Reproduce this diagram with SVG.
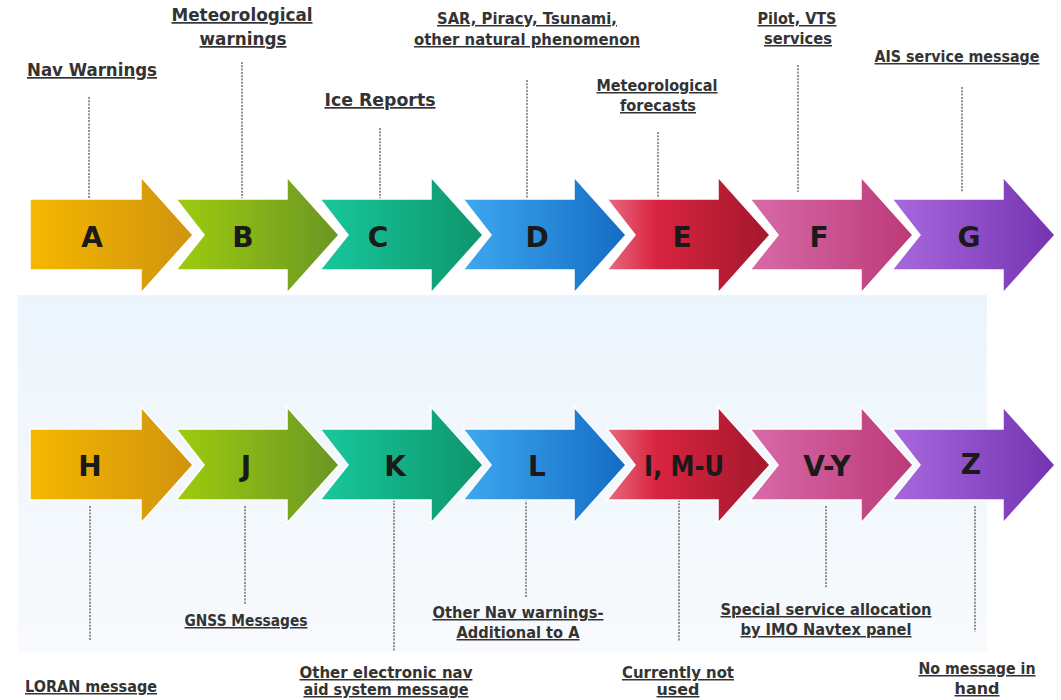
<svg xmlns="http://www.w3.org/2000/svg" width="1061" height="700" viewBox="0 0 1061 700">
<defs>
<linearGradient id="bg" x1="0" y1="0" x2="0" y2="1"><stop offset="0" stop-color="#ECF5FD"/><stop offset="1" stop-color="#F8FAFC"/></linearGradient>
<linearGradient id="gA" x1="0" y1="0" x2="1" y2="0"><stop offset="0" stop-color="#F5B700"/><stop offset="1" stop-color="#D0930E"/></linearGradient>
<linearGradient id="gB" x1="0" y1="0" x2="1" y2="0"><stop offset="0" stop-color="#9ECC0E"/><stop offset="1" stop-color="#6A9624"/></linearGradient>
<linearGradient id="gC" x1="0" y1="0" x2="1" y2="0"><stop offset="0" stop-color="#18C89C"/><stop offset="1" stop-color="#0E956C"/></linearGradient>
<linearGradient id="gD" x1="0" y1="0" x2="1" y2="0"><stop offset="0" stop-color="#3EA8F0"/><stop offset="1" stop-color="#146CC4"/></linearGradient>
<linearGradient id="gE" x1="0" y1="0" x2="1" y2="0"><stop offset="0" stop-color="#E86A80"/><stop offset="0.3" stop-color="#D92440"/><stop offset="1" stop-color="#A3182C"/></linearGradient>
<linearGradient id="gF" x1="0" y1="0" x2="1" y2="0"><stop offset="0" stop-color="#D86AA8"/><stop offset="1" stop-color="#BC3A78"/></linearGradient>
<linearGradient id="gG" x1="0" y1="0" x2="1" y2="0"><stop offset="0" stop-color="#A868DE"/><stop offset="1" stop-color="#7434B0"/></linearGradient>
<style>
.arrow{stroke:#ffffff;stroke-width:1.5;stroke-linejoin:miter}
.letter{font-family:"DejaVu Sans","Liberation Sans",sans-serif;font-weight:bold;font-size:28px;fill:#1a1a1a;text-anchor:middle}
.lbl{font-family:"DejaVu Sans","Liberation Sans",sans-serif;font-weight:bold;font-size:15px;fill:#333333;text-anchor:middle;text-decoration:underline}
.big{font-size:17px}
.conn{stroke:#3a3a3a;stroke-width:1.1;stroke-dasharray:2 1.3;fill:none}
</style>
</defs>
<rect x="0" y="0" width="1061" height="700" fill="#ffffff"/>
<rect x="18" y="295" width="969" height="357" fill="url(#bg)"/>

<g id="connectors">
<line class="conn" x1="89" y1="97" x2="89" y2="200"/>
<line class="conn" x1="242" y1="62" x2="242" y2="200"/>
<line class="conn" x1="380" y1="128" x2="380" y2="200"/>
<line class="conn" x1="527" y1="80" x2="527" y2="199"/>
<line class="conn" x1="658" y1="132" x2="658" y2="200"/>
<line class="conn" x1="798" y1="65" x2="798" y2="192"/>
<line class="conn" x1="962" y1="87" x2="962" y2="192"/>
<line class="conn" x1="90" y1="506" x2="90" y2="640"/>
<line class="conn" x1="245" y1="506" x2="245" y2="604"/>
<line class="conn" x1="394" y1="500" x2="394" y2="651"/>
<line class="conn" x1="526" y1="496" x2="526" y2="598"/>
<line class="conn" x1="679" y1="500" x2="679" y2="641"/>
<line class="conn" x1="826" y1="506" x2="826" y2="588"/>
<line class="conn" x1="975" y1="506" x2="975" y2="632"/>
</g>

<g id="node-A"><path class="arrow" fill="url(#gA)" d="M30,199 H141 V177 L193,235 L141,293 V270 H30 Z"/><text class="letter" x="92" y="247">A</text></g>
<g id="node-B"><path class="arrow" fill="url(#gB)" d="M176,199 H287 V177 L339,235 L287,293 V270 H176 L204,235 Z"/><text class="letter" x="243" y="247">B</text></g>
<g id="node-C"><path class="arrow" fill="url(#gC)" d="M320,199 H431 V177 L483,235 L431,293 V270 H320 L348,235 Z"/><text class="letter" x="378" y="247">C</text></g>
<g id="node-D"><path class="arrow" fill="url(#gD)" d="M463,199 H574 V177 L626,235 L574,293 V270 H463 L491,235 Z"/><text class="letter" x="537" y="247">D</text></g>
<g id="node-E"><path class="arrow" fill="url(#gE)" d="M607,199 H718 V177 L770,235 L718,293 V270 H607 L635,235 Z"/><text class="letter" x="682" y="247">E</text></g>
<g id="node-F"><path class="arrow" fill="url(#gF)" d="M750,199 H861 V177 L913,235 L861,293 V270 H750 L778,235 Z"/><text class="letter" x="819" y="247">F</text></g>
<g id="node-G"><path class="arrow" fill="url(#gG)" d="M892,199 H1003 V177 L1055,235 L1003,293 V270 H892 L920,235 Z"/><text class="letter" x="969" y="247">G</text></g>

<g id="node-H"><path class="arrow" fill="url(#gA)" d="M30,429 H141 V407 L193,465 L141,523 V500 H30 Z"/><text class="letter" x="90" y="476">H</text></g>
<g id="node-J"><path class="arrow" fill="url(#gB)" d="M176,429 H287 V407 L339,465 L287,523 V500 H176 L204,465 Z"/><text class="letter" x="246" y="476">J</text></g>
<g id="node-K"><path class="arrow" fill="url(#gC)" d="M320,429 H431 V407 L483,465 L431,523 V500 H320 L348,465 Z"/><text class="letter" x="395" y="476">K</text></g>
<g id="node-L"><path class="arrow" fill="url(#gD)" d="M463,429 H574 V407 L626,465 L574,523 V500 H463 L491,465 Z"/><text class="letter" x="537" y="476">L</text></g>
<g id="node-IMU"><path class="arrow" fill="url(#gE)" d="M607,429 H718 V407 L770,465 L718,523 V500 H607 L635,465 Z"/><text class="letter" x="684" y="476" textLength="80" lengthAdjust="spacingAndGlyphs">I, M-U</text></g>
<g id="node-VY"><path class="arrow" fill="url(#gF)" d="M750,429 H861 V407 L913,465 L861,523 V500 H750 L778,465 Z"/><text class="letter" x="827" y="476">V-Y</text></g>
<g id="node-Z"><path class="arrow" fill="url(#gG)" d="M892,429 H1003 V407 L1055,465 L1003,523 V500 H892 L920,465 Z"/><text class="letter" x="971" y="474">Z</text></g>

<g id="label-A"><text class="lbl big" x="92" y="76" textLength="130" lengthAdjust="spacingAndGlyphs">Nav Warnings</text></g>
<g id="label-B"><text class="lbl big" x="242" y="21" textLength="141" lengthAdjust="spacingAndGlyphs">Meteorological</text><text class="lbl big" x="243" y="45" textLength="87" lengthAdjust="spacingAndGlyphs">warnings</text></g>
<g id="label-C"><text class="lbl big" x="380" y="106" textLength="111" lengthAdjust="spacingAndGlyphs">Ice Reports</text></g>
<g id="label-D"><text class="lbl" x="527" y="24" textLength="180" lengthAdjust="spacingAndGlyphs">SAR, Piracy, Tsunami,</text><text class="lbl" x="527" y="45" textLength="226" lengthAdjust="spacingAndGlyphs">other natural phenomenon</text></g>
<g id="label-E"><text class="lbl" x="657" y="91" textLength="121" lengthAdjust="spacingAndGlyphs">Meteorological</text><text class="lbl" x="658" y="111" textLength="76" lengthAdjust="spacingAndGlyphs">forecasts</text></g>
<g id="label-F"><text class="lbl" x="797" y="24" textLength="79" lengthAdjust="spacingAndGlyphs">Pilot, VTS</text><text class="lbl" x="798" y="44" textLength="68" lengthAdjust="spacingAndGlyphs">services</text></g>
<g id="label-G"><text class="lbl" x="957" y="62" textLength="165" lengthAdjust="spacingAndGlyphs">AIS service message</text></g>

<g id="label-H"><text class="lbl" x="91" y="692" textLength="132" lengthAdjust="spacingAndGlyphs">LORAN message</text></g>
<g id="label-J"><text class="lbl" x="246" y="626" textLength="123" lengthAdjust="spacingAndGlyphs">GNSS Messages</text></g>
<g id="label-K"><text class="lbl" x="386" y="678" textLength="173" lengthAdjust="spacingAndGlyphs">Other electronic nav</text><text class="lbl" x="386" y="695" textLength="165" lengthAdjust="spacingAndGlyphs">aid system message</text></g>
<g id="label-L"><text class="lbl" x="518" y="618" textLength="171" lengthAdjust="spacingAndGlyphs">Other Nav warnings-</text><text class="lbl" x="518" y="638" textLength="123" lengthAdjust="spacingAndGlyphs">Additional to A</text></g>
<g id="label-IMU"><text class="lbl" x="678" y="678" textLength="112" lengthAdjust="spacingAndGlyphs">Currently not</text><text class="lbl" x="678" y="695" textLength="43" lengthAdjust="spacingAndGlyphs">used</text></g>
<g id="label-VY"><text class="lbl" x="826" y="615" textLength="211" lengthAdjust="spacingAndGlyphs">Special service allocation</text><text class="lbl" x="826" y="635" textLength="171" lengthAdjust="spacingAndGlyphs">by IMO Navtex panel</text></g>
<g id="label-Z"><text class="lbl" x="977" y="674" textLength="117" lengthAdjust="spacingAndGlyphs">No message in</text><text class="lbl" x="977" y="694" textLength="45" lengthAdjust="spacingAndGlyphs">hand</text></g>
</svg>
